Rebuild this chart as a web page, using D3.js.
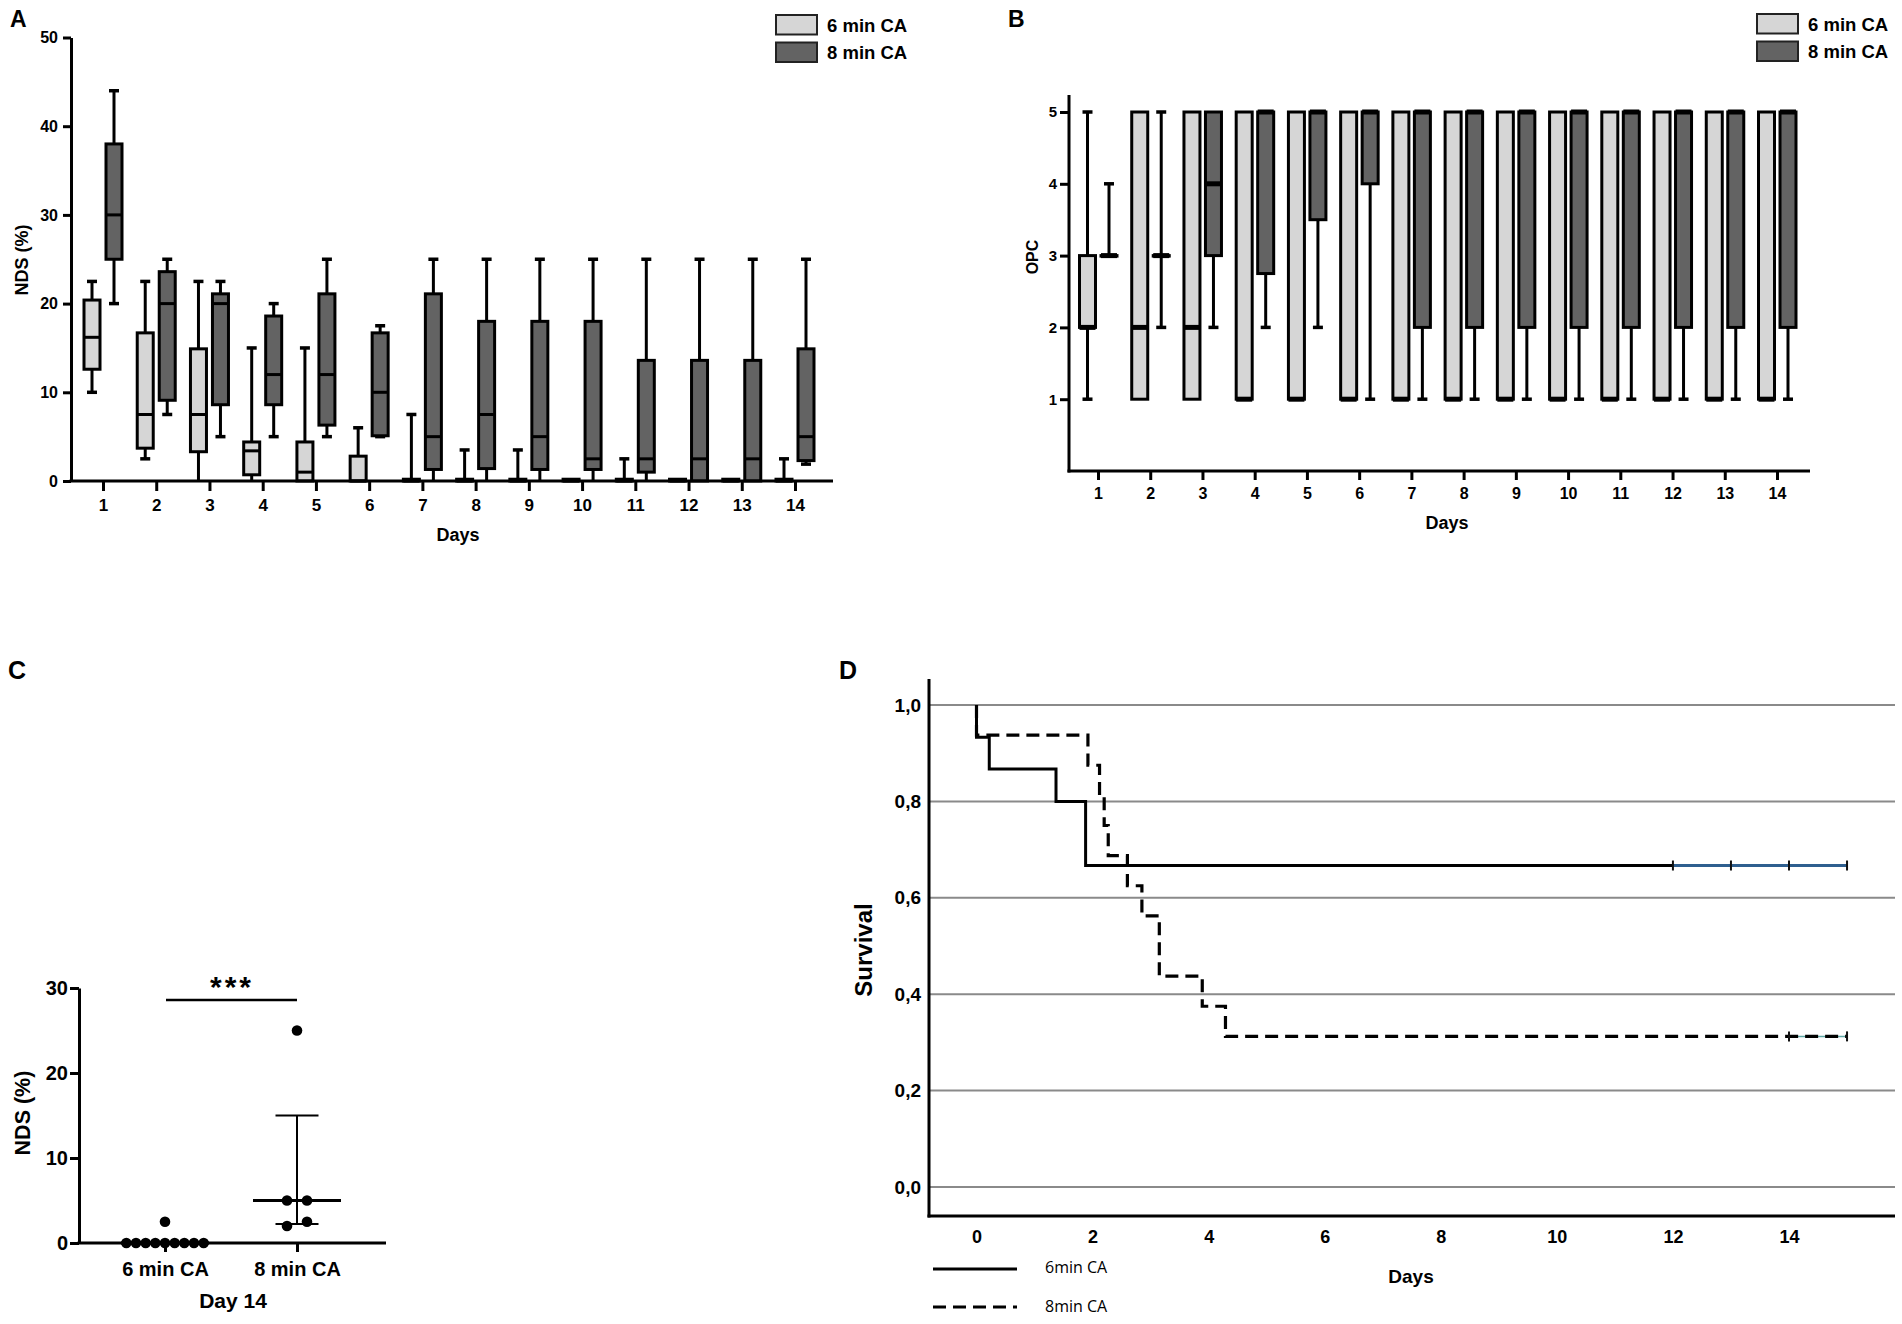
<!DOCTYPE html>
<html>
<head>
<meta charset="utf-8">
<script src="https://cdn.jsdelivr.net/npm/d3@7"></script>
<style>
  body { margin: 0; background: #fff; }
  svg { display: block; }
  text { font-family: "Liberation Sans", Arial, sans-serif; font-weight: bold; fill: #000; }
</style>
</head>
<body>
<svg id="fig" width="1902" height="1324"></svg>
<script>
// ---- data ----
const days = [1, 2, 3, 4, 5, 6, 7, 8, 9, 10, 11, 12, 13, 14];
const groups = ['6 min CA', '8 min CA'];

// panel A: NDS (%) box plots per day
const nds6Min = [10, 2.5, 0, 0, 0, 0, 0, 0, 0, 0, 0, 0, 0, 0];
const nds6Q1  = [12.6, 3.7, 3.3, 0.7, 0, 0, 0, 0, 0, 0, 0, 0, 0, 0];
const nds6Med = [16.2, 7.5, 7.5, 3.4, 1, 0, 0, 0, 0, 0, 0, 0, 0, 0];
const nds6Q3  = [20.4, 16.7, 14.9, 4.4, 4.4, 2.8, 0.2, 0.2, 0.2, 0.2, 0.2, 0.2, 0.2, 0.2];
const nds6Max = [22.5, 22.5, 22.5, 15, 15, 6, 7.5, 3.5, 3.5, 0.2, 2.5, 0.2, 0.2, 2.5];

const nds8Min = [20, 7.5, 5, 5, 5, 5, 0, 0, 0, 0, 0, 0, 0, 1.9];
const nds8Q1  = [25, 9.1, 8.6, 8.6, 6.3, 5.1, 1.3, 1.4, 1.3, 1.3, 1.0, 0, 0, 2.3];
const nds8Med = [30, 20, 20, 12, 12, 10, 5, 7.5, 5, 2.5, 2.5, 2.5, 2.5, 5];
const nds8Q3  = [38, 23.6, 21.1, 18.6, 21.1, 16.7, 21.1, 18, 18, 18, 13.6, 13.6, 13.6, 14.9];
const nds8Max = [44, 25, 22.5, 20, 25, 17.5, 25, 25, 25, 25, 25, 25, 25, 25];

// panel B: OPC box plots per day
const opc6Min = [1, 1, 1, 1, 1, 1, 1, 1, 1, 1, 1, 1, 1, 1];
const opc6Q1  = [2, 1, 1, 1, 1, 1, 1, 1, 1, 1, 1, 1, 1, 1];
const opc6Med = [2, 2, 2, 1, 1, 1, 1, 1, 1, 1, 1, 1, 1, 1];
const opc6Q3  = [3, 5, 5, 5, 5, 5, 5, 5, 5, 5, 5, 5, 5, 5];
const opc6Max = [5, 5, 5, 5, 5, 5, 5, 5, 5, 5, 5, 5, 5, 5];

const opc8Min = [3, 2, 2, 2, 2, 1, 1, 1, 1, 1, 1, 1, 1, 1];
const opc8Q1  = [3, 3, 3, 2.75, 3.5, 4, 2, 2, 2, 2, 2, 2, 2, 2];
const opc8Med = [3, 3, 4, 5, 5, 5, 5, 5, 5, 5, 5, 5, 5, 5];
const opc8Q3  = [3, 3, 5, 5, 5, 5, 5, 5, 5, 5, 5, 5, 5, 5];
const opc8Max = [4, 5, 5, 5, 5, 5, 5, 5, 5, 5, 5, 5, 5, 5];

// panel C: NDS on day 14, individual animals
const day14Nds6 = [0, 0, 0, 0, 0, 0, 0, 0, 0, 2.5];
const day14Nds8 = [25, 5, 5, 2.5, 2];
const day14Med = [0, 5];
const day14Q1 = [0, 2.25];
const day14Q3 = [0, 15];

// panel D: Kaplan-Meier survival
const km6Times = [0, 0.22, 1.37, 1.88];
const km6Surv  = [0.933, 0.867, 0.8, 0.667];
const km6Censor = [12, 13, 14, 15];
const km8Times = [0, 1.92, 2.12, 2.2, 2.27, 2.6, 2.85, 3.15, 3.89, 4.29];
const km8Surv  = [0.9375, 0.875, 0.8125, 0.75, 0.6875, 0.625, 0.5625, 0.4375, 0.375, 0.3125];
const km8Censor = [14, 15];
const kmEnd = 15;
const kmXTicks = [0, 2, 4, 6, 8, 10, 12, 14];
const kmYTicks = [0, 0.2, 0.4, 0.6, 0.8, 1.0];

const lightFill = '#d6d6d6';
const darkFill = '#636363';

const svg = d3.select('#fig');

function styleAxis(g, size, width) {
  g.selectAll('.tick line').attr('stroke', '#000').attr('stroke-width', width);
  g.selectAll('.domain').attr('stroke', '#000').attr('stroke-width', width);
  g.selectAll('.tick text')
    .attr('fill', '#000')
    .style('font-size', size + 'px')
    .style('font-family', '"Liberation Sans", Arial, sans-serif')
    .style('font-weight', 'bold');
}

function boxStats(min, q1, med, q3, max) {
  return days.map((d, i) => ({ day: d, min: min[i], q1: q1[i], med: med[i], q3: q3[i], max: max[i] }));
}

function drawBoxes(g, x, y, stats, offset, fill, bw, medWidth) {
  const grp = g.append('g');
  const cx = d => x(d.day) + offset;

  grp.selectAll('line.whisk')
    .data(stats)
    .join('line')
    .attr('class', 'whisk')
    .attr('x1', cx).attr('x2', cx)
    .attr('y1', d => y(d.min)).attr('y2', d => y(d.max))
    .attr('stroke', '#000').attr('stroke-width', 3);

  grp.selectAll('line.capTop')
    .data(stats.filter(d => d.max > d.q3))
    .join('line')
    .attr('class', 'capTop')
    .attr('x1', d => cx(d) - 5).attr('x2', d => cx(d) + 5)
    .attr('y1', d => y(d.max)).attr('y2', d => y(d.max))
    .attr('stroke', '#000').attr('stroke-width', 3.5);

  grp.selectAll('line.capBot')
    .data(stats.filter(d => d.min < d.q1 && d.min > 0))
    .join('line')
    .attr('class', 'capBot')
    .attr('x1', d => cx(d) - 5).attr('x2', d => cx(d) + 5)
    .attr('y1', d => y(d.min)).attr('y2', d => y(d.min))
    .attr('stroke', '#000').attr('stroke-width', 3.5);

  grp.selectAll('rect')
    .data(stats)
    .join('rect')
    .attr('x', d => cx(d) - bw / 2)
    .attr('y', d => y(d.q3))
    .attr('width', bw)
    .attr('height', d => Math.max(0.5, y(d.q1) - y(d.q3)))
    .attr('fill', fill)
    .attr('stroke', '#000')
    .attr('stroke-width', 3);

  grp.selectAll('line.med')
    .data(stats)
    .join('line')
    .attr('class', 'med')
    .attr('x1', d => cx(d) - bw / 2).attr('x2', d => cx(d) + bw / 2)
    .attr('y1', d => y(d.med)).attr('y2', d => y(d.med))
    .attr('stroke', '#000').attr('stroke-width', medWidth);
}

function drawLegend(g, x, y) {
  const lg = g.append('g').attr('transform', `translate(${x},${y})`);
  const fills = [lightFill, darkFill];
  groups.forEach((name, i) => {
    lg.append('rect')
      .attr('x', 0).attr('y', i * 27.5)
      .attr('width', 41).attr('height', 19.5)
      .attr('fill', fills[i]).attr('stroke', '#222').attr('stroke-width', 2);
    lg.append('text')
      .attr('x', 51).attr('y', i * 27.5 + 16.5)
      .style('font-size', '18.5px')
      .text(name);
  });
}

function panelLabel(txt, x, y, size) {
  svg.append('text').attr('x', x).attr('y', y).style('font-size', size + 'px').text(txt);
}

function yTitle(txt, x, y, size) {
  svg.append('text')
    .attr('transform', `translate(${x},${y}) rotate(-90)`)
    .attr('text-anchor', 'middle')
    .style('font-size', size + 'px')
    .text(txt);
}

function xTitle(txt, x, y, size) {
  svg.append('text')
    .attr('x', x).attr('y', y)
    .attr('text-anchor', 'middle')
    .style('font-size', size + 'px')
    .text(txt);
}

// ---- panel A ----
(function () {
  const left = 71, right = 833, top = 37.5, bottom = 481;
  const x = d3.scaleLinear().domain([1, 14]).range([103, 795]);
  const y = d3.scaleLinear().domain([0, 50]).range([bottom, top]);
  const g = svg.append('g');

  drawBoxes(g, x, y, boxStats(nds6Min, nds6Q1, nds6Med, nds6Q3, nds6Max), -11, lightFill, 16, 3);
  drawBoxes(g, x, y, boxStats(nds8Min, nds8Q1, nds8Med, nds8Q3, nds8Max), 11, darkFill, 16, 3);

  g.append('g')
    .attr('transform', `translate(${left},0)`)
    .call(d3.axisLeft(y).tickValues([0, 10, 20, 30, 40, 50]).tickSize(8).tickPadding(5).tickSizeOuter(0))
    .call(a => styleAxis(a, 16, 3));

  g.append('line')
    .attr('x1', left - 1.5).attr('x2', right)
    .attr('y1', bottom).attr('y2', bottom)
    .attr('stroke', '#000').attr('stroke-width', 3);

  g.append('g')
    .attr('transform', `translate(0,${bottom})`)
    .call(d3.axisBottom(x).tickValues(days).tickSize(10).tickPadding(8).tickSizeOuter(0))
    .call(a => a.select('.domain').remove())
    .call(a => styleAxis(a, 17, 3));

  yTitle('NDS (%)', 28, 260, 18);
  xTitle('Days', 458, 541, 18);
  drawLegend(g, 776, 15);
  panelLabel('A', 10, 27, 23);
})();

// ---- panel B ----
(function () {
  const left = 1069, right = 1810, top = 95, bottom = 471;
  const x = d3.scaleLinear().domain([1, 14]).range([1098, 1777]);
  const y = d3.scaleLinear().domain([0, 5]).range([bottom, 112]);
  const g = svg.append('g');

  drawBoxes(g, x, y, boxStats(opc6Min, opc6Q1, opc6Med, opc6Q3, opc6Max), -10.5, lightFill, 16, 5);
  drawBoxes(g, x, y, boxStats(opc8Min, opc8Q1, opc8Med, opc8Q3, opc8Max), 11, darkFill, 16, 5);

  g.append('g')
    .attr('transform', `translate(${left},0)`)
    .call(d3.axisLeft(y).tickValues([1, 2, 3, 4, 5]).tickFormat(d3.format('d'))
      .tickSize(9).tickPadding(3).tickSizeOuter(0))
    .call(a => a.select('.domain').remove())
    .call(a => styleAxis(a, 15, 3));

  g.append('line')
    .attr('x1', left).attr('x2', left)
    .attr('y1', top).attr('y2', bottom + 1.5)
    .attr('stroke', '#000').attr('stroke-width', 3);
  g.append('line')
    .attr('x1', left - 1.5).attr('x2', right)
    .attr('y1', bottom).attr('y2', bottom)
    .attr('stroke', '#000').attr('stroke-width', 3);

  g.append('g')
    .attr('transform', `translate(0,${bottom})`)
    .call(d3.axisBottom(x).tickValues(days).tickSize(9).tickPadding(8).tickSizeOuter(0))
    .call(a => a.select('.domain').remove())
    .call(a => styleAxis(a, 16, 3));

  yTitle('OPC', 1038, 257, 16);
  xTitle('Days', 1447, 529, 18);
  drawLegend(g, 1757, 14);
  panelLabel('B', 1008, 27, 23);
})();

// ---- panel C ----
(function () {
  const left = 79, right = 386, bottom = 1243;
  const x = d3.scalePoint().domain(groups).range([165, 297]);
  const y = d3.scaleLinear().domain([0, 30]).range([bottom, 988]);
  const dotR = 5.3;
  const g = svg.append('g');

  function swarm(values, cx) {
    const sorted = values.slice().sort((a, b) => a - b);
    const rows = [];
    sorted.forEach(v => {
      const last = rows[rows.length - 1];
      if (last && Math.abs(y(last[0]) - y(v)) < dotR * 2) last.push(v);
      else rows.push([v]);
    });
    const out = [];
    rows.forEach(row => {
      const sp = Math.min(20, 87 / row.length);
      row.forEach((v, k) => out.push({ v, x: cx + (k - (row.length - 1) / 2) * sp }));
    });
    return out;
  }

  g.append('g')
    .attr('transform', `translate(${left},0)`)
    .call(d3.axisLeft(y).tickValues([0, 10, 20, 30]).tickSize(9).tickPadding(2).tickSizeOuter(0))
    .call(a => styleAxis(a, 20, 3));

  g.append('line')
    .attr('x1', left - 1.5).attr('x2', right)
    .attr('y1', bottom).attr('y2', bottom)
    .attr('stroke', '#000').attr('stroke-width', 3);

  g.append('g')
    .attr('transform', `translate(0,${bottom})`)
    .call(d3.axisBottom(x).tickSize(9).tickPadding(10).tickSizeOuter(0))
    .call(a => a.select('.domain').remove())
    .call(a => styleAxis(a, 20, 3));

  // median and interquartile bars
  groups.forEach((grp, i) => {
    const cx = x(grp);
    g.append('line')
      .attr('x1', cx).attr('x2', cx)
      .attr('y1', y(day14Q1[i])).attr('y2', y(day14Q3[i]))
      .attr('stroke', '#000').attr('stroke-width', 2);
    [day14Q1[i], day14Q3[i]].forEach(v => {
      g.append('line')
        .attr('x1', cx - 21.5).attr('x2', cx + 21.5)
        .attr('y1', y(v)).attr('y2', y(v))
        .attr('stroke', '#000').attr('stroke-width', 2);
    });
    g.append('line')
      .attr('x1', cx - 44).attr('x2', cx + 44)
      .attr('y1', y(day14Med[i])).attr('y2', y(day14Med[i]))
      .attr('stroke', '#000').attr('stroke-width', 3);
  });

  const pts = swarm(day14Nds6, x(groups[0])).concat(swarm(day14Nds8, x(groups[1])));
  g.selectAll('circle')
    .data(pts)
    .join('circle')
    .attr('cx', d => d.x)
    .attr('cy', d => y(d.v))
    .attr('r', dotR)
    .attr('fill', '#000');

  // significance bar
  g.append('line')
    .attr('x1', x(groups[0]) + 1).attr('x2', x(groups[1]))
    .attr('y1', 1000).attr('y2', 1000)
    .attr('stroke', '#000').attr('stroke-width', 2.5);
  g.append('text')
    .attr('x', (x(groups[0]) + x(groups[1])) / 2 + 1)
    .attr('y', 997)
    .attr('text-anchor', 'middle')
    .style('font-size', '30px')
    .style('letter-spacing', '3px')
    .text('***');

  yTitle('NDS (%)', 30, 1113, 21.5);
  xTitle('Day 14', 233, 1308, 21);
  panelLabel('C', 8, 679, 25);
})();

// ---- panel D ----
(function () {
  const left = 929, right = 1895, top = 679, bottom = 1216;
  const x = d3.scaleLinear().domain([0, 14]).range([976.5, 1789]);
  const y = d3.scaleLinear().domain([0, 1]).range([1187, 705]);
  const g = svg.append('g');

  g.selectAll('line.grid')
    .data(kmYTicks)
    .join('line')
    .attr('class', 'grid')
    .attr('x1', left).attr('x2', right)
    .attr('y1', d => y(d)).attr('y2', d => y(d))
    .attr('stroke', '#8a8a8a').attr('stroke-width', 2);

  g.append('line')
    .attr('x1', left).attr('x2', left)
    .attr('y1', top).attr('y2', bottom + 1.5)
    .attr('stroke', '#000').attr('stroke-width', 3);
  g.append('line')
    .attr('x1', left - 1.5).attr('x2', right)
    .attr('y1', bottom).attr('y2', bottom)
    .attr('stroke', '#000').attr('stroke-width', 3);

  g.append('g')
    .attr('transform', `translate(${left},0)`)
    .call(d3.axisLeft(y).tickValues(kmYTicks).tickSize(0).tickPadding(8)
      .tickFormat(d => d.toFixed(1).replace('.', ',')))
    .call(a => a.select('.domain').remove())
    .call(a => styleAxis(a, 19, 0));

  g.append('g')
    .attr('transform', `translate(0,${bottom})`)
    .call(d3.axisBottom(x).tickValues(kmXTicks).tickSize(0).tickPadding(14))
    .call(a => a.select('.domain').remove())
    .call(a => styleAxis(a, 18, 0));

  function kmPoints(times, surv) {
    const pts = [[0, 1]];
    times.forEach((t, i) => pts.push([t, surv[i]]));
    pts.push([kmEnd, surv[surv.length - 1]]);
    return pts;
  }
  const line = d3.line().x(d => x(d[0])).y(d => y(d[1])).curve(d3.curveStepAfter);

  const last6 = km6Surv[km6Surv.length - 1];
  const last8 = km8Surv[km8Surv.length - 1];

  // censored stretches
  g.append('line')
    .attr('x1', x(km8Censor[0])).attr('x2', x(kmEnd))
    .attr('y1', y(last8)).attr('y2', y(last8))
    .attr('stroke', '#5fa9a6').attr('stroke-width', 1.5);

  g.append('path')
    .datum(kmPoints(km8Times, km8Surv))
    .attr('d', line)
    .attr('fill', 'none')
    .attr('stroke', '#000')
    .attr('stroke-width', 3.2)
    .attr('stroke-dasharray', '13,7');

  g.append('path')
    .datum(kmPoints(km6Times, km6Surv).filter(d => d[0] <= km6Censor[0]).concat([[km6Censor[0], last6]]))
    .attr('d', line)
    .attr('fill', 'none')
    .attr('stroke', '#000')
    .attr('stroke-width', 3);

  g.append('line')
    .attr('x1', x(km6Censor[0])).attr('x2', x(kmEnd))
    .attr('y1', y(last6)).attr('y2', y(last6))
    .attr('stroke', '#2f5f8f').attr('stroke-width', 3);

  const censors = km6Censor.map(t => ({ t, s: last6 })).concat(km8Censor.map(t => ({ t, s: last8 })));
  g.selectAll('line.censor')
    .data(censors)
    .join('line')
    .attr('class', 'censor')
    .attr('x1', d => x(d.t)).attr('x2', d => x(d.t))
    .attr('y1', d => y(d.s) - 5).attr('y2', d => y(d.s) + 5)
    .attr('stroke', '#111').attr('stroke-width', 2);

  // legend
  const lg = g.append('g');
  ['6min CA', '8min CA'].forEach((name, i) => {
    lg.append('line')
      .attr('x1', 933).attr('x2', 1017)
      .attr('y1', 1269 + i * 38).attr('y2', 1269 + i * 38)
      .attr('stroke', '#000').attr('stroke-width', 3)
      .attr('stroke-dasharray', i === 0 ? null : '13,7');
    lg.append('text')
      .attr('x', 1045).attr('y', 1273 + i * 39)
      .style('font-family', '"Open Sans", sans-serif')
      .style('font-weight', 'normal')
      .style('font-size', '16px')
      .attr('fill', '#333')
      .text(name);
  });

  yTitle('Survival', 872, 950, 24);
  xTitle('Days', 1411, 1283, 19);
  panelLabel('D', 839, 679, 25);
})();
</script>
</body>
</html>
